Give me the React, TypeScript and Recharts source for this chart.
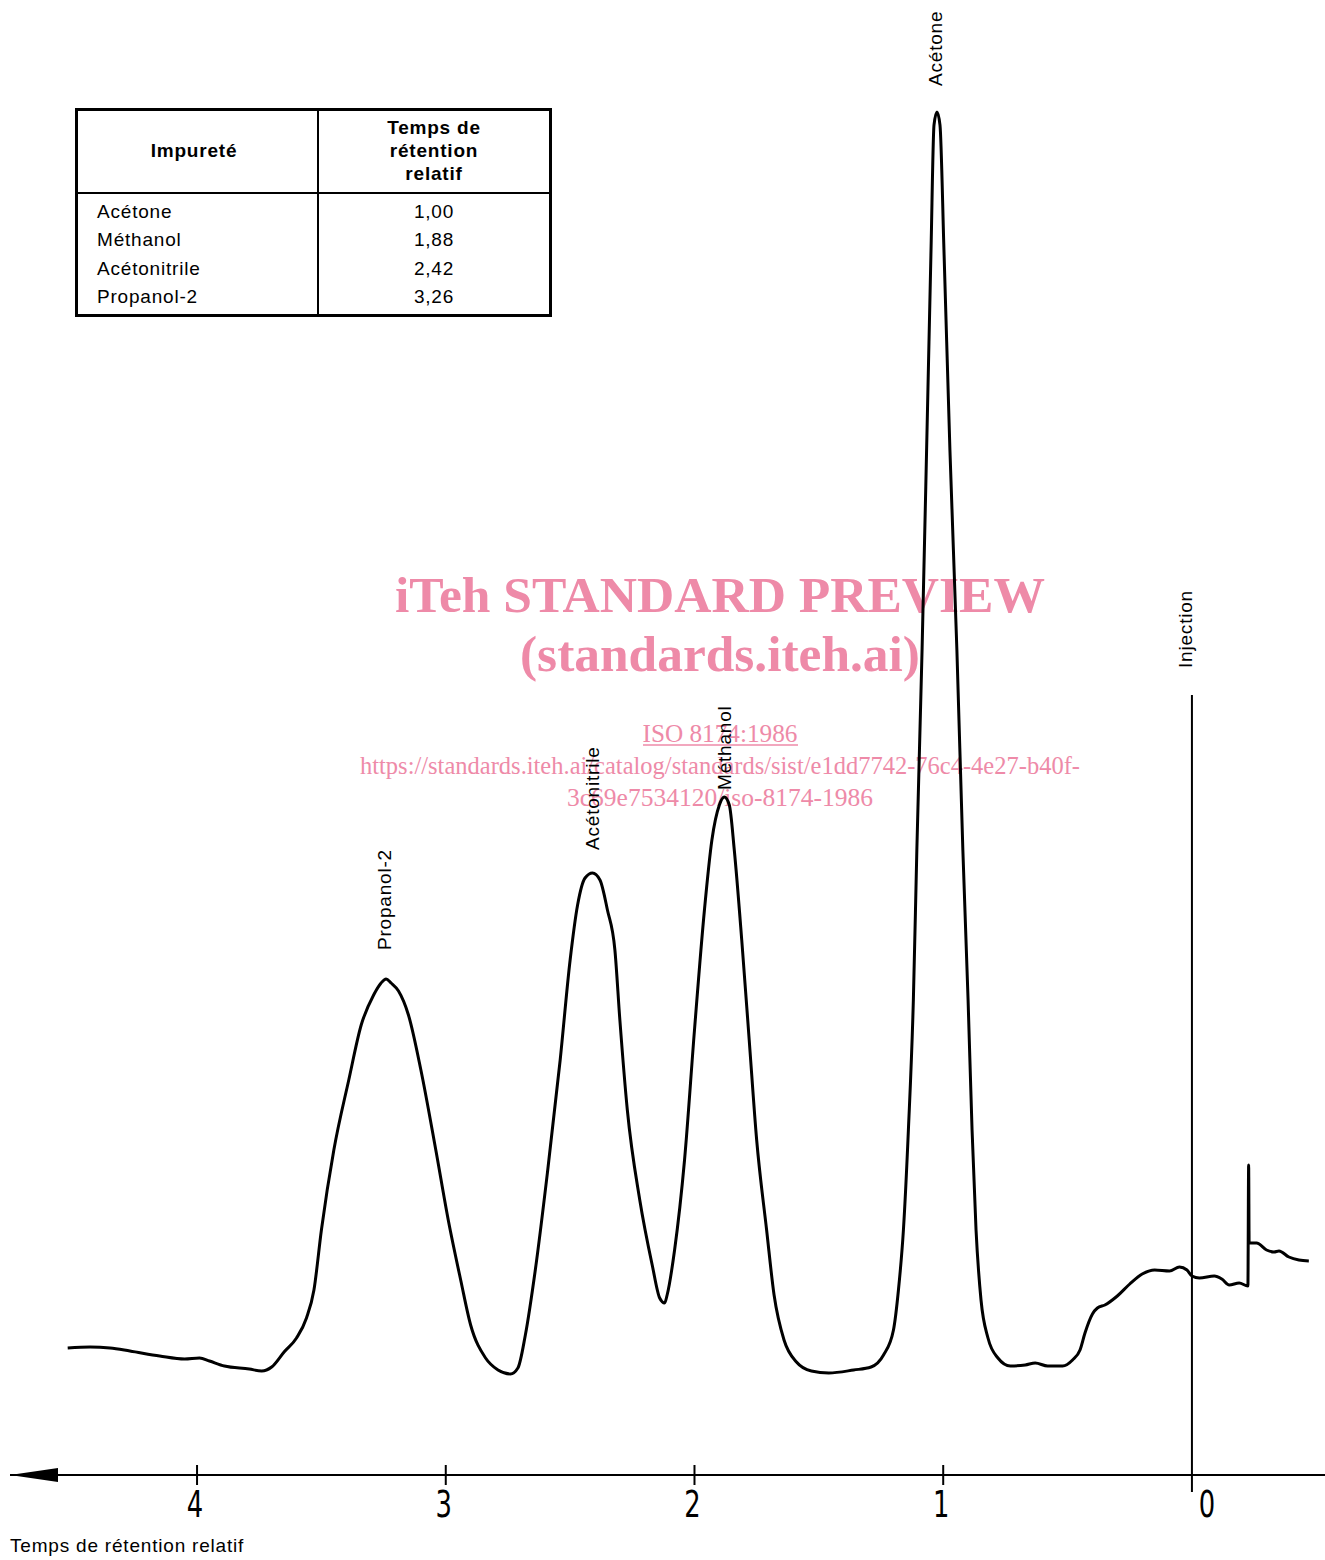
import React from 'react'
import { LineChart, Line, XAxis, YAxis, ReferenceDot } from 'recharts'

// relative retention time (x) and detector signal (arbitrary units)
const time = [
  4.52, 4.43, 4.35, 4.27, 4.15, 4.05, 3.99, 3.95, 3.89, 3.79,
  3.74, 3.7, 3.65, 3.6, 3.56, 3.53, 3.5, 3.45, 3.39, 3.34,
  3.29, 3.26, 3.24, 3.22, 3.19, 3.15, 3.1, 3.04, 2.99, 2.94, 2.9,
  2.84, 2.79, 2.74, 2.71, 2.68, 2.64, 2.59, 2.54, 2.5, 2.47,
  2.44, 2.41, 2.38, 2.35, 2.32, 2.3, 2.27, 2.22, 2.17, 2.14,
  2.12, 2.11, 2.08, 2.04, 2.0, 1.96, 1.93, 1.9, 1.88, 1.86,
  1.84, 1.81, 1.78, 1.75, 1.71, 1.68, 1.64, 1.59, 1.53, 1.46,
  1.36, 1.29, 1.24, 1.2, 1.18, 1.16, 1.14, 1.12, 1.106, 1.085,
  1.065, 1.049, 1.037, 1.025, 1.013, 0.997, 0.973, 0.945, 0.921, 0.9,
  0.884, 0.868, 0.848, 0.82, 0.78, 0.73, 0.67, 0.63, 0.58, 0.52,
  0.48, 0.45, 0.43, 0.4, 0.38, 0.35, 0.3, 0.25, 0.2, 0.15,
  0.09, 0.05, 0.02, 0.0, -0.03, -0.09, -0.12, -0.15, -0.19, -0.225,
  -0.228, -0.23, -0.26, -0.3, -0.33, -0.35, -0.39, -0.43, -0.47,
]
const signal = [
  12.7, 12.8, 12.7, 12.4, 11.9, 11.6, 11.7, 11.4, 10.9, 10.6,
  10.4, 10.8, 12.3, 13.7, 15.7, 18.5, 24.5, 32.5, 39.5, 45.0,
  48.0, 49.2, 49.6, 49.2, 48.4, 46.0, 40.5, 32.5, 25.5, 19.5, 15.0,
  11.7, 10.5, 10.1, 10.7, 14.0, 20.5, 30.5, 41.5, 51.5, 57.0,
  59.7, 60.2, 59.5, 56.5, 52.5, 45.5, 36.5, 27.5, 21.0, 17.7,
  17.2, 18.0, 22.5, 31.5, 44.5, 56.5, 63.5, 67.0, 67.8, 67.0,
  62.5, 53.5, 43.5, 33.5, 24.5, 18.0, 13.5, 11.3, 10.4, 10.2,
  10.5, 10.8, 12.0, 14.5, 18.5, 24.5, 34.5, 47.5, 62.5, 82.5,
  104.5, 122.5, 135.0, 136.3, 135.0, 122.5, 102.5, 82.5, 62.5, 47.5,
  34.5, 24.5, 17.5, 13.7, 11.7, 10.9, 11.0, 11.2, 10.9, 10.9,
  11.5, 12.5, 14.2, 16.1, 16.7, 17.0, 17.9, 19.1, 20.1, 20.5,
  20.4, 20.8, 20.5, 19.9, 19.7, 19.9, 19.6, 19.0, 19.2, 18.9,
  31.0, 23.2, 23.2, 22.5, 22.3, 22.4, 21.8, 21.5, 21.4,
]

const injectionTime = 0
const injectionTop = 78

const peakLabels = ['Propanol-2', 'Acétonitrile', 'Méthanol', 'Acétone', 'Injection']
const labelTimes = [3.245, 2.41, 1.88, 1.03, 0.025]
const labelBases = [52.5, 62.5, 68.5, 138.9, 80.7]

const axisTicks = [4, 3, 2, 1, 0]

const impurities = ['Acétone', 'Méthanol', 'Acétonitrile', 'Propanol-2']
const retention = ['1,00', '1,88', '2,42', '3,26']

const watermark = [
  'iTeh STANDARD PREVIEW',
  '(standards.iteh.ai)',
  'ISO 8174:1986',
  'https://standards.iteh.ai/catalog/standards/sist/e1dd7742-76c4-4e27-b40f-',
  '3c69e7534120/iso-8174-1986',
]

const trace = time.map((t, i) => ({ t, s: signal[i] }))
const injection = [
  { t: injectionTime, s: 0 },
  { t: injectionTime, s: injectionTop },
]

const SANS = "'Liberation Sans', Arial, Helvetica, sans-serif"
const PINK = '#ee8aa8'

function AxisTick(props: any) {
  const { x, y, payload } = props
  const v = payload.value
  const isZero = v === 0
  const lx = isZero ? x + 15 : x - 2
  return (
    <g>
      <line
        x1={x}
        x2={x}
        y1={isZero ? y : y - 10}
        y2={isZero ? y + 17 : y + 10}
        stroke="#000"
        strokeWidth={2}
      />
      <text
        transform={`translate(${lx},${y + 42}) scale(0.68,1)`}
        textAnchor="middle"
        fontSize={38}
        fontFamily="'DejaVu Sans', sans-serif"
        fill="#000"
      >
        {v}
      </text>
    </g>
  )
}

function PeakLabel(name: string) {
  return (props: any) => {
    const { cx, cy } = props
    return (
      <text
        transform={`translate(${cx},${cy}) rotate(-90)`}
        dy="0.35em"
        textAnchor="start"
        fontSize={19}
        letterSpacing={0.8}
        fontFamily={SANS}
        fill="#000"
      >
        {name}
      </text>
    )
  }
}

function Watermark() {
  return (
    <svg
      width={1325}
      height={1560}
      style={{ position: 'absolute', left: 0, top: 0 }}
    >
      <g fill={PINK} fontFamily="'Liberation Serif', 'Times New Roman', serif" textAnchor="middle">
        <text x={720} y={612} fontSize={51} fontWeight="bold" textLength={650} lengthAdjust="spacingAndGlyphs">
          {watermark[0]}
        </text>
        <text x={720} y={671} fontSize={51} fontWeight="bold" textLength={400} lengthAdjust="spacingAndGlyphs">
          {watermark[1]}
        </text>
        <text x={720} y={742} fontSize={26} textLength={155} lengthAdjust="spacingAndGlyphs">
          {watermark[2]}
        </text>
        <line x1={643} x2={798} y1={745} y2={745} stroke={PINK} strokeWidth={1.5} />
        <text x={720} y={774} fontSize={26} textLength={720} lengthAdjust="spacingAndGlyphs">
          {watermark[3]}
        </text>
        <text x={720} y={806} fontSize={26} textLength={306} lengthAdjust="spacingAndGlyphs">
          {watermark[4]}
        </text>
      </g>
    </svg>
  )
}

function RetentionTable() {
  const cell: React.CSSProperties = {
    position: 'absolute',
    fontFamily: SANS,
    fontSize: 19,
    letterSpacing: 0.8,
    color: '#000',
    lineHeight: '23px',
  }
  return (
    <div
      style={{
        position: 'absolute',
        left: 75,
        top: 108,
        width: 477,
        height: 209,
        border: '3px solid #000',
        boxSizing: 'border-box',
      }}
    >
      <div style={{ position: 'absolute', left: 239, top: 0, bottom: 0, width: 2, background: '#000' }} />
      <div style={{ position: 'absolute', left: 0, right: 0, top: 81, height: 2, background: '#000' }} />
      <div style={{ ...cell, left: 0, width: 232, top: 28, textAlign: 'center', fontWeight: 'bold' }}>
        Impureté
      </div>
      <div style={{ ...cell, left: 241, width: 230, top: 5, textAlign: 'center', fontWeight: 'bold' }}>
        Temps de
        <br />
        rétention
        <br />
        relatif
      </div>
      {impurities.map((name, i) => (
        <React.Fragment key={name}>
          <div style={{ ...cell, left: 19, top: 89 + i * 28.4 }}>{name}</div>
          <div style={{ ...cell, left: 241, width: 230, top: 89 + i * 28.4, textAlign: 'center' }}>
            {retention[i]}
          </div>
        </React.Fragment>
      ))}
    </div>
  )
}

export default function App() {
  return (
    <div
      style={{
        position: 'absolute',
        left: 0,
        top: 0,
        width: 1325,
        height: 1560,
        background: '#fff',
        overflow: 'hidden',
      }}
    >
      <Watermark />
      <svg width={0} height={0} style={{ position: 'absolute' }}>
        <defs>
          <marker
            id="axisArrow"
            markerUnits="userSpaceOnUse"
            markerWidth={48}
            markerHeight={16}
            refX={0}
            refY={8}
            orient="auto"
          >
            <path d="M0,8 L48,1 L48,15 Z" fill="#000" />
          </marker>
        </defs>
      </svg>
      <div style={{ position: 'absolute', left: 0, top: 0 }}>
        <LineChart
          width={1325}
          height={1560}
          data={trace}
          margin={{ top: 75, right: 0, bottom: 0, left: 10 }}
        >
          <XAxis
            type="number"
            dataKey="t"
            domain={[-0.535, 4.752]}
            reversed
            ticks={axisTicks}
            interval={0}
            height={85}
            tickSize={0}
            tickMargin={0}
            tickLine={false}
            axisLine={{ stroke: '#000', strokeWidth: 2, markerStart: 'url(#axisArrow)' }}
            tick={<AxisTick />}
          />
          <YAxis hide type="number" domain={[0, 140]} />
          <Line
            data={injection}
            dataKey="s"
            type="linear"
            stroke="#000"
            strokeWidth={2}
            dot={false}
            activeDot={false}
            isAnimationActive={false}
          />
          <Line
            dataKey="s"
            type="monotoneX"
            stroke="#000"
            strokeWidth={3}
            dot={false}
            activeDot={false}
            isAnimationActive={false}
          />
          {peakLabels.map((name, i) => (
            <ReferenceDot
              key={name}
              x={labelTimes[i]}
              y={labelBases[i]}
              r={0}
              shape={PeakLabel(name)}
            />
          ))}
        </LineChart>
      </div>
      <RetentionTable />
      <div
        style={{
          position: 'absolute',
          left: 10,
          top: 1535,
          fontFamily: SANS,
          fontSize: 19,
          letterSpacing: 0.8,
          color: '#000',
        }}
      >
        Temps de rétention relatif
      </div>
    </div>
  )
}
